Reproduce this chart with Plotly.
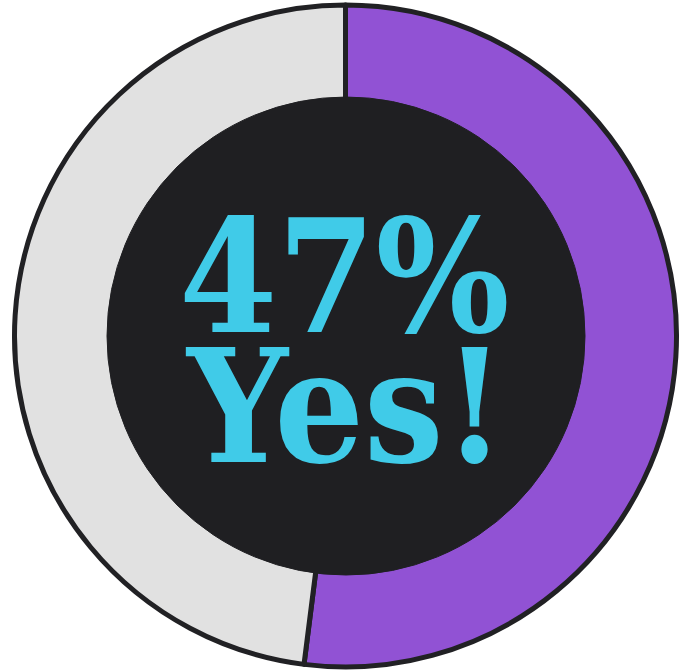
import plotly.graph_objects as go

# Data
labels = ["Yes", "No"]
values = [52, 48]
colors = ["#9152d4", "#e1e1e1"]
headline = "47%"
subline = "Yes!"

W, H = 685, 670
ML, MR, MT, MB = 14, 8, 5, 3
PW, PH = W - ML - MR, H - MT - MB


def px_x(px):
    return (px - ML) / PW


def px_y(py):
    return 1 - (py - MT) / PH


fig = go.Figure()
fig.add_trace(go.Pie(
    labels=labels,
    values=values,
    sort=False,
    direction="clockwise",
    rotation=0,
    hole=0.70,
    marker=dict(colors=colors, line=dict(color="#212124", width=5)),
    textinfo="none",
    hoverinfo="label+percent",
    showlegend=False,
))

cx, cy, r_in = 346, 336, 239
fig.add_shape(
    type="circle", xref="paper", yref="paper",
    x0=px_x(cx - r_in), x1=px_x(cx + r_in),
    y0=px_y(cy + r_in), y1=px_y(cy - r_in),
    fillcolor="#1f1f22", line=dict(color="#1f1f22", width=1),
    layer="above",
)

font = dict(family="DejaVu Serif Condensed, DejaVu Serif", size=157,
            color="#40cbe8", weight="bold")
fig.add_annotation(text=headline, xref="paper", yref="paper",
                   x=px_x(344), y=px_y(277), xanchor="center", yanchor="middle",
                   showarrow=False, font=font)
fig.add_annotation(text=subline, xref="paper", yref="paper",
                   x=px_x(345), y=px_y(407), xanchor="center", yanchor="middle",
                   showarrow=False, font=font)

fig.update_layout(
    width=W, height=H,
    margin=dict(l=ML, r=MR, t=MT, b=MB, pad=0),
    paper_bgcolor="white", plot_bgcolor="white",
)
fig.write_html("out.html", config={"displayModeBar": False},
               post_script="document.body.style.margin='0';")
